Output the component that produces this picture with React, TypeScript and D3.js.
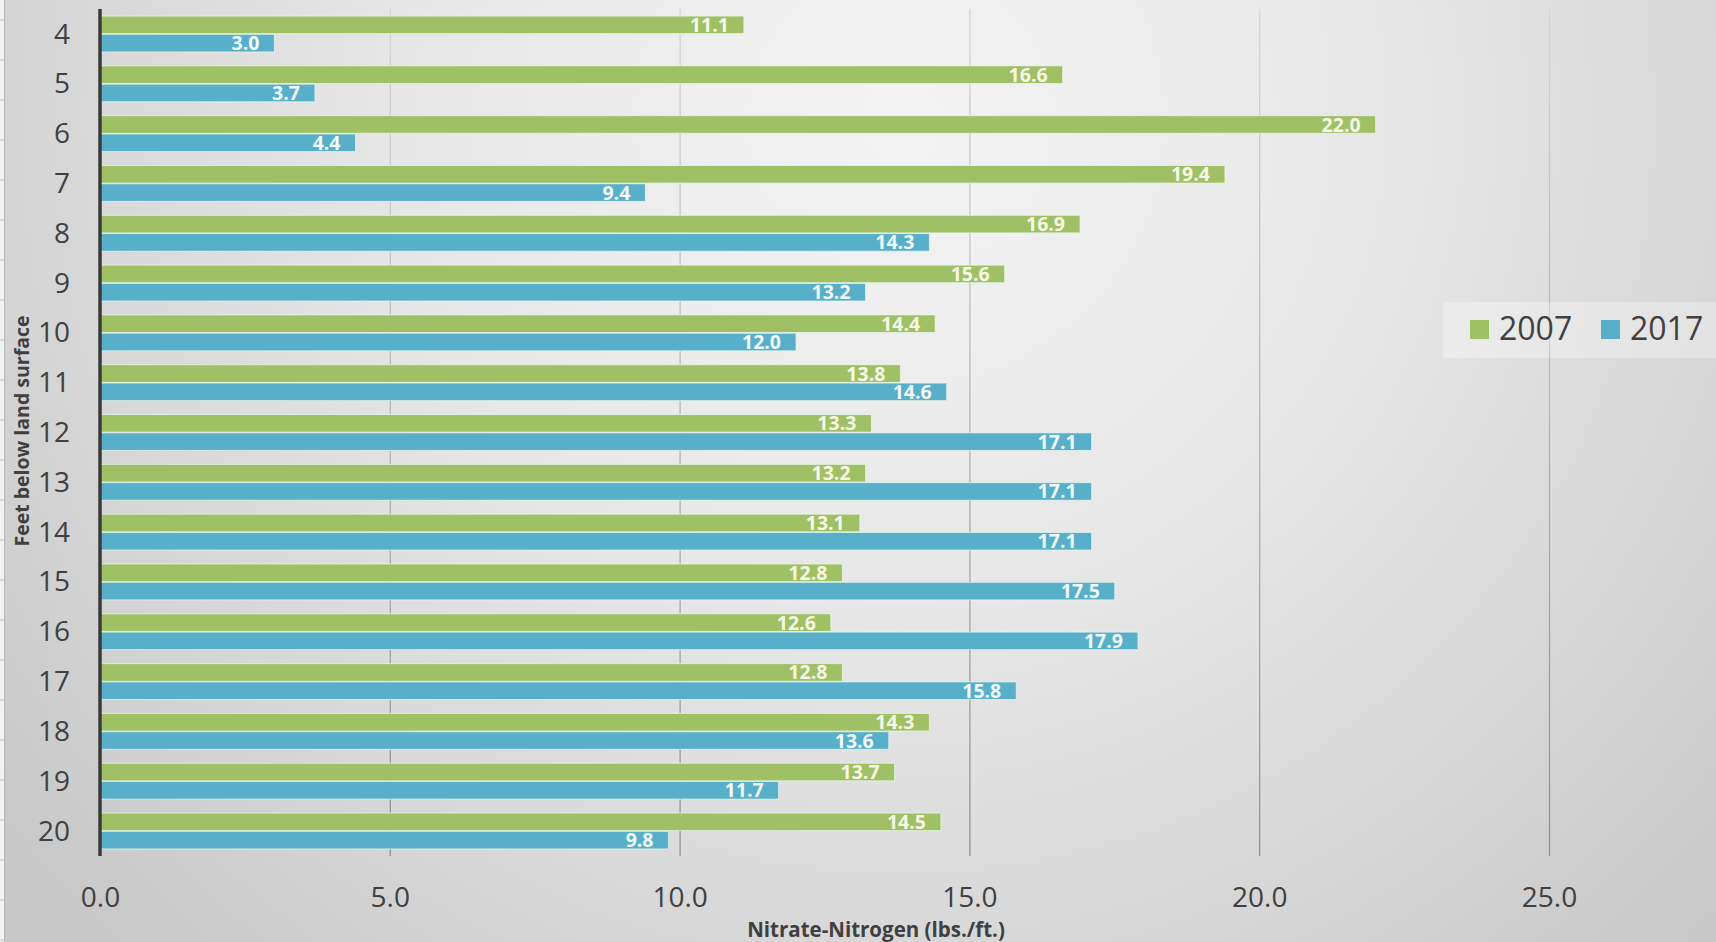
import React from "react";
import * as d3 from "d3";

const categories = ["4", "5", "6", "7", "8", "9", "10", "11", "12", "13", "14", "15", "16", "17", "18", "19", "20"];
const values2007 = [11.1, 16.6, 22.0, 19.4, 16.9, 15.6, 14.4, 13.8, 13.3, 13.2, 13.1, 12.8, 12.6, 12.8, 14.3, 13.7, 14.5];
const values2017 = [3.0, 3.7, 4.4, 9.4, 14.3, 13.2, 12.0, 14.6, 17.1, 17.1, 17.1, 17.5, 17.9, 15.8, 13.6, 11.7, 9.8];
const seriesNames = ["2007", "2017"];
const xTicks = [0, 5, 10, 15, 20, 25];
const xTitle = "Nitrate-Nitrogen (lbs./ft.)";
const yTitle = "Feet below land surface";

const W = 1716;
const H = 942;
const colors: Record<string, string> = { "2007": "#9fc064", "2017": "#57afc9" };
const labelColors: Record<string, string> = { "2007": "#f7f8e6", "2017": "#f2f9fc" };
const FONT = "'Open Sans', 'DejaVu Sans', sans-serif";

export default function App() {
  const x = d3.scaleLinear().domain([0, 30]).range([100.5, 1839.3]);
  const y = d3.scaleBand<string>().domain(categories).range([9.1, 855.9]).paddingInner(0.28).paddingOuter(0.14);
  const ySub = d3.scaleBand<string>().domain(seriesNames).range([0, y.bandwidth()]).paddingInner(0.04);
  const data = categories.map((c, i) => ({ cat: c, vals: { "2007": values2007[i], "2017": values2017[i] } as Record<string, number> }));
  const plotTop = y.range()[0];
  const plotBottom = y.range()[1];
  const leftMarks = d3.range(20, H, 40);

  return (
    <svg width={W} height={H} style={{ position: "absolute", left: 0, top: 0, display: "block" }} fontFamily={FONT}>
      <defs>
        <radialGradient id="bg" cx="900" cy="120" r="1150" gradientUnits="userSpaceOnUse">
          <stop offset="0" stopColor="#f4f4f4" />
          <stop offset="0.45" stopColor="#e6e6e6" />
          <stop offset="1" stopColor="#c8c8c8" />
        </radialGradient>
        <linearGradient id="grid" x1="0" y1={plotTop} x2="0" y2={plotBottom} gradientUnits="userSpaceOnUse">
          <stop offset="0" stopColor="#d4d4d4" />
          <stop offset="1" stopColor="#8c8c8c" />
        </linearGradient>
      </defs>
      <rect x={0} y={0} width={W} height={H} fill="url(#bg)" />
      <rect x={0} y={0} width={4} height={H} fill="#f3f3f3" />
      <line x1={4.5} x2={4.5} y1={0} y2={H} stroke="#b8b8b8" strokeWidth={1} />
      {leftMarks.map((m) => (
        <line key={m} x1={0} x2={4} y1={m} y2={m} stroke="#bdbdbd" strokeWidth={1} />
      ))}

      {/* gridlines */}
      {xTicks.filter((t) => t > 0).map((t) => (
        <line key={t} x1={x(t)} x2={x(t)} y1={plotTop} y2={plotBottom} stroke="url(#grid)" strokeWidth={1.2} />
      ))}

      {/* bars */}
      {data.map((d) => (
        <g key={d.cat} transform={`translate(0,${y(d.cat)})`}>
          {seriesNames.map((s) => (
            <rect
              key={s}
              x={x(0)}
              y={ySub(s)}
              width={x(d.vals[s]) - x(0)}
              height={ySub.bandwidth()}
              fill={colors[s]}
              stroke="rgba(235,250,240,0.7)"
              strokeWidth={1}
            />
          ))}
          {seriesNames.map((s) => (
            <text
              key={s + "l"}
              x={x(d.vals[s]) - 15}
              y={(ySub(s) as number) + ySub.bandwidth() / 2}
              dy="0.36em"
              textAnchor="end"
              fontSize={19.5}
              fontWeight={700}
              fill={labelColors[s]}
            >
              {d.vals[s].toFixed(1)}
            </text>
          ))}
        </g>
      ))}

      {/* y axis line */}
      <line x1={100} x2={100} y1={plotTop} y2={plotBottom} stroke="#3a3a3a" strokeWidth={3.5} />

      {/* y tick labels */}
      {categories.map((c) => (
        <text key={c} x={70} y={(y(c) as number) + y.bandwidth() / 2} dy="0.34em" textAnchor="end" fontSize={28} fill="#404040">
          {c}
        </text>
      ))}

      {/* x tick labels */}
      {xTicks.map((t) => (
        <text key={t} x={x(t)} y={907} textAnchor="middle" fontSize={28} fill="#404040">
          {d3.format(".1f")(t)}
        </text>
      ))}

      {/* axis titles */}
      <text x={876} y={937} textAnchor="middle" fontSize={20.5} fontWeight={700} fill="#404040">
        {xTitle}
      </text>
      <text transform="translate(29,431) rotate(-90)" textAnchor="middle" fontSize={19.5} fontWeight={700} fill="#404040">
        {yTitle}
      </text>

      {/* legend */}
      <rect x={1443} y={302} width={290} height={56} fill="#ffffff" opacity={0.3} />
      {seriesNames.map((s, i) => (
        <g key={s} transform={`translate(${1470 + i * 131},0)`}>
          <rect x={0} y={320} width={19} height={19} fill={colors[s]} />
          <text x={29} y={340} fontSize={32} fill="#404040">
            {s}
          </text>
        </g>
      ))}
    </svg>
  );
}
